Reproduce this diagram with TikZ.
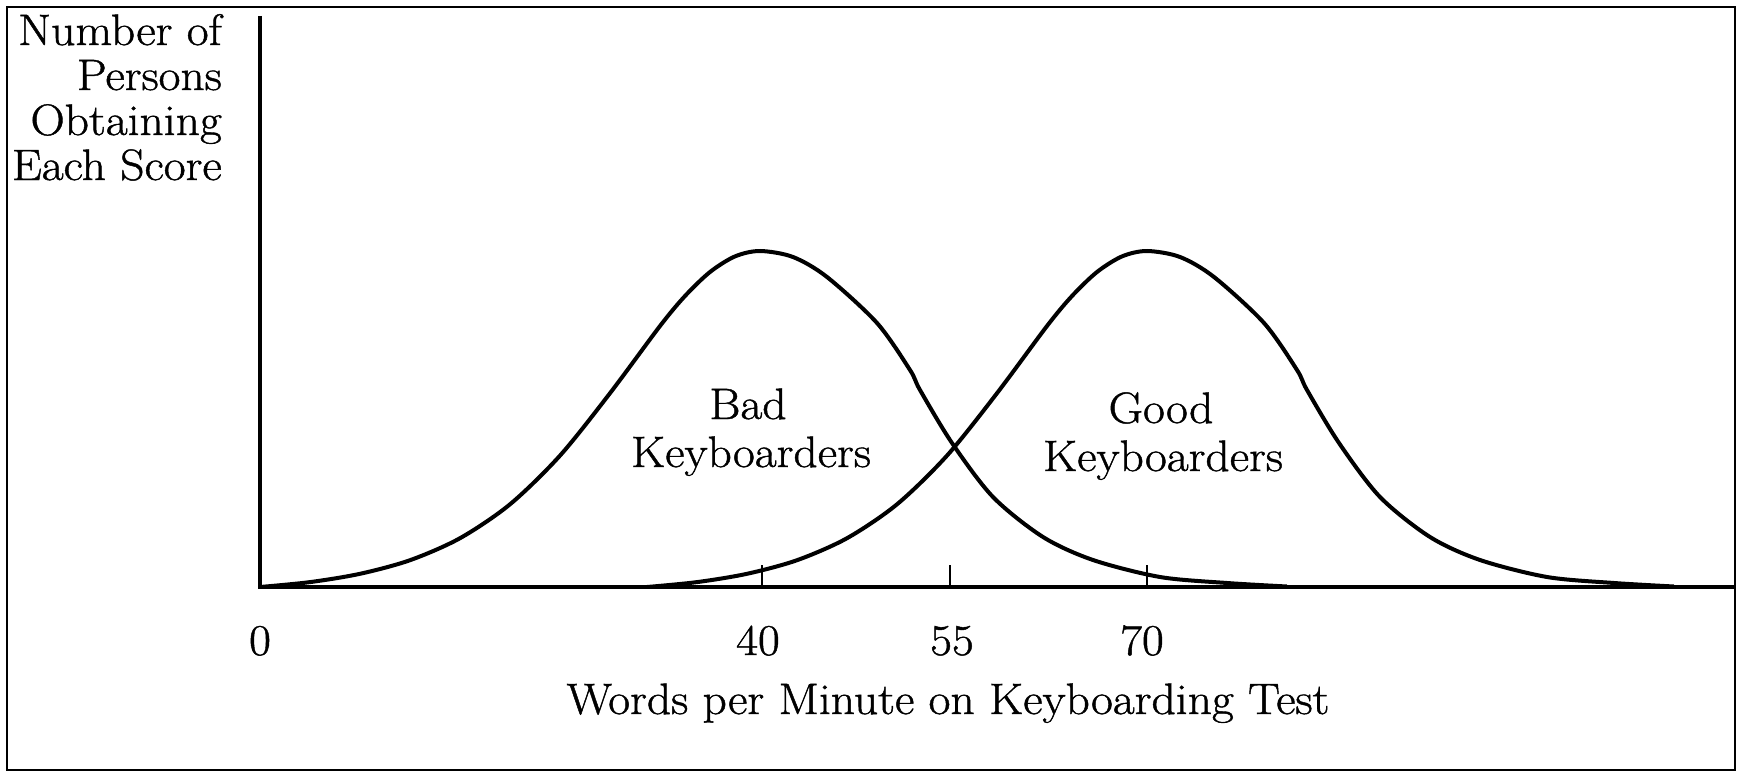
\documentclass[tikz,border=0pt]{standalone}
\usepackage{fontspec}
\setmainfont{Latin Modern Roman}[FakeStretch=1.08, FakeBold=1]
\begin{document}
\begin{tikzpicture}[x=1pt,y=-1pt,
  lbl/.style={font=\fontsize{44}{46}\selectfont, inner sep=0pt},
  axisline/.style={line width=4.5pt, line join=miter},
  curveline/.style={line width=4pt, line cap=butt},
  tickline/.style={line width=2pt},
  frameline/.style={line width=2pt},
  bell/.pic={
    \draw[curveline] plot[smooth, tension=0.5] coordinates {
      (0,587) (50,582.1) (100,573.8) (150,560.2) (200,538.2) (250,504.3)
      (300,455.6) (350,393.2) (400,326) (425,296) (450,272) (475,256.4)
      (500,251) (533,257) (567,277) (617,323) (650,370) (660,390)
      (692,443) (733,497) (783,537) (833,560) (900,577) (967,583) (1027,586.5)};
  }]
  \useasboundingbox (0,0) rectangle (1740,773);
  % frame
  \draw[frameline] (7,7) rectangle (1735,770);
  % axes
  \coordinate (ytop) at (260,16);
  \coordinate (origin) at (260,587);
  \coordinate (xend) at (1735,587);
  \draw[axisline] (ytop) -- (origin) -- (xend);
  % ticks
  \coordinate (t40) at (762,587);
  \coordinate (t55) at (950,587);
  \coordinate (t70) at (1147,587);
  \foreach \t in {t40,t55,t70}{
    \draw[tickline] (\t) -- ++(0,-22);
  }
  % curves
  \pic (badcurve) at (260,0) {bell};
  \pic (goodcurve) at (647,0) {bell};
  % y label
  \node[lbl, anchor=base east] (yl1) at (222,45) {Number of};
  \node[lbl, anchor=base east] (yl2) at (222,90) {Persons};
  \node[lbl, anchor=base east] (yl3) at (222,135) {Obtaining};
  \node[lbl, anchor=base east] (yl4) at (222,180) {Each Score};
  % tick labels
  \node[lbl, anchor=base] (l0) at (260,655) {0};
  \node[lbl, anchor=base] (l40) at (758,655) {40};
  \node[lbl, anchor=base] (l55) at (952,655) {55};
  \node[lbl, anchor=base] (l70) at (1142,655) {70};
  % x label
  \node[lbl, anchor=base] (xl) at (948,714) {Words per Minute on Keyboarding Test};
  % curve labels
  \node[lbl, anchor=base] (bad1) at (748,419) {Bad};
  \node[lbl, anchor=base] (bad2) at (751,467) {Keyboarders};
  \node[lbl, anchor=base] (good1) at (1161,423) {Good};
  \node[lbl, anchor=base] (good2) at (1163,471) {Keyboarders};
\end{tikzpicture}
\end{document}
